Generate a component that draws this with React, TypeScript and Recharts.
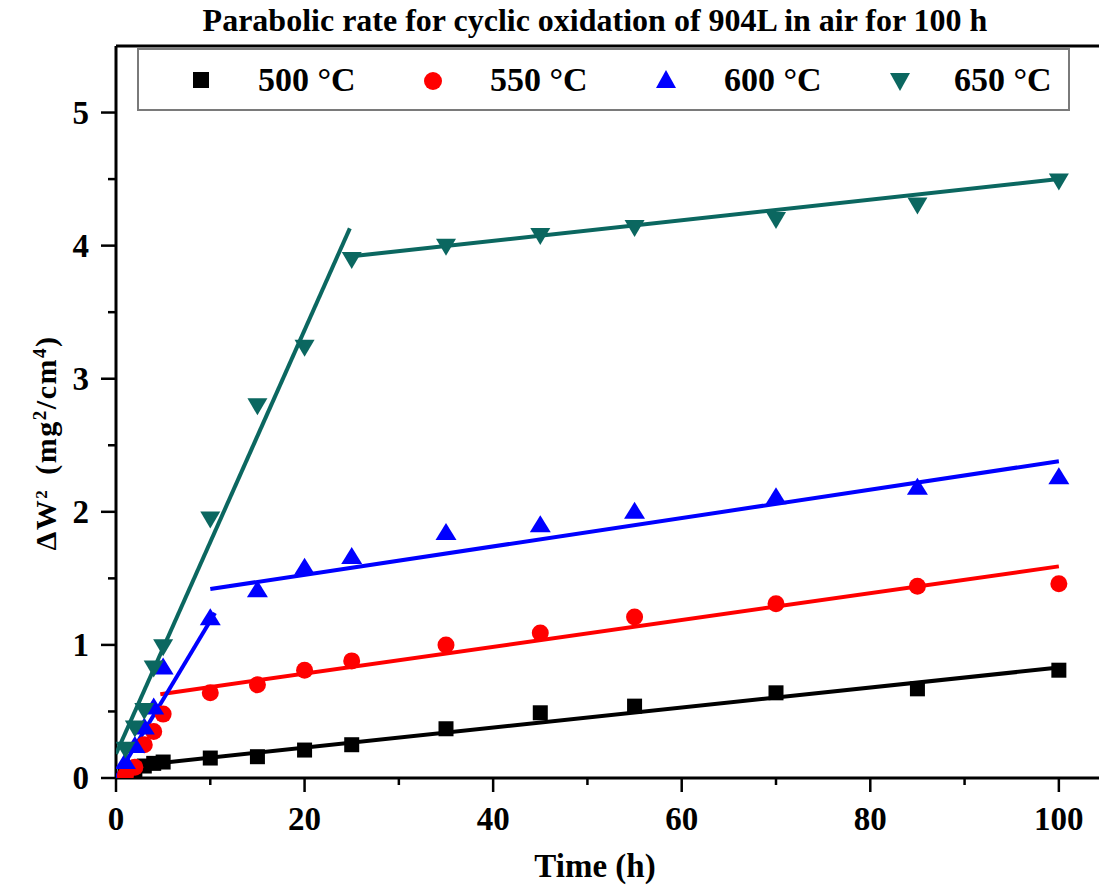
import React from 'react';
import { ComposedChart, Scatter, XAxis, YAxis, ReferenceLine } from 'recharts';

// Measured points (h, mg^2/cm^4)
const times = [1, 2, 3, 4, 5, 10, 15, 20, 25, 35, 45, 55, 70, 85, 100];
const w500 = [0.03, 0.06, 0.09, 0.11, 0.12, 0.15, 0.16, 0.21, 0.25, 0.37, 0.49, 0.54, 0.64, 0.67, 0.81];
const w550 = [0.02, 0.08, 0.25, 0.35, 0.48, 0.64, 0.7, 0.81, 0.88, 1.0, 1.09, 1.21, 1.31, 1.44, 1.46];
const w600 = [0.12, 0.24, 0.38, 0.53, 0.83, 1.2, 1.41, 1.58, 1.66, 1.84, 1.9, 2.0, 2.11, 2.18, 2.26];
const w650 = [0.22, 0.38, 0.51, 0.83, 0.99, 1.95, 2.8, 3.24, 3.9, 4.0, 4.08, 4.14, 4.2, 4.31, 4.49];

// Linear fit segments (start / end)
const fit500X = [3, 100];
const fit500Y = [0.1, 0.83];
const fit550X = [4.7, 100];
const fit550Y = [0.63, 1.59];
const fit600aX = [0, 10.5];
const fit600aY = [0.0, 1.24];
const fit600bX = [10, 100];
const fit600bY = [1.42, 2.38];
const fit650aX = [0, 24.8];
const fit650aY = [0.18, 4.13];
const fit650bX = [25, 100];
const fit650bY = [3.92, 4.5];

const xTicks = [0, 10, 20, 30, 40, 50, 60, 70, 80, 90, 100];
const yTicks = [0, 0.5, 1, 1.5, 2, 2.5, 3, 3.5, 4, 4.5, 5];

const legendLabels = ['500 °C', '550 °C', '600 °C', '650 °C'];

const FONT = '"Liberation Serif", "Times New Roman", serif';
const BLACK = '#000000';
const RED = '#ff0000';
const BLUE = '#0000ff';
const TEAL = '#0b6760';

const pts = (xs: number[], ys: number[]) => xs.map((x, i) => ({ x, y: ys[i] }));

const squareShape = (p: any) => <rect x={p.cx - 7.5} y={p.cy - 7.5} width={15} height={15} fill={BLACK} />;
const circleShape = (p: any) => <circle cx={p.cx} cy={p.cy} r={8.5} fill={RED} />;
const triUpShape = (p: any) => (
  <polygon points={`${p.cx},${p.cy - 10} ${p.cx + 10.5},${p.cy + 7} ${p.cx - 10.5},${p.cy + 7}`} fill={BLUE} />
);
const triDownShape = (p: any) => (
  <polygon points={`${p.cx - 10},${p.cy - 7} ${p.cx + 10},${p.cy - 7} ${p.cx},${p.cy + 10}`} fill={TEAL} />
);
const noShape = () => <g />;

const XTick = (props: any) => {
  const { x, y, payload } = props;
  const major = payload.value % 20 === 0;
  return (
    <g>
      <line x1={x} x2={x} y1={y} y2={y + (major ? 14 : 7)} stroke="#000" strokeWidth={2.5} />
      {major && (
        <text x={x} y={y + 52} textAnchor="middle" fontFamily={FONT} fontWeight="bold" fontSize={33} fill="#000">
          {payload.value}
        </text>
      )}
    </g>
  );
};

const YTick = (props: any) => {
  const { x, y, payload } = props;
  const major = Number.isInteger(payload.value);
  return (
    <g>
      <line x1={x} x2={x - (major ? 15 : 8)} y1={y} y2={y} stroke="#000" strokeWidth={2.5} />
      {major && (
        <text x={x - 27} y={y + 11} textAnchor="end" fontFamily={FONT} fontWeight="bold" fontSize={33} fill="#000">
          {payload.value}
        </text>
      )}
    </g>
  );
};

// legend markers
const legendX = [201, 433, 666, 900];
const legendTextX = [258, 490, 724, 954];

const Overlay = () => (
  <svg width={1099} height={887} style={{ position: 'absolute', left: 0, top: 0, pointerEvents: 'none' }}>
    <text x={595} y={31} textAnchor="middle" fontFamily={FONT} fontWeight="bold" fontSize={32} fill="#000">
      Parabolic rate for cyclic oxidation of 904L in air for 100 h
    </text>
    <rect x={138} y={49} width={931} height={61} fill="#fff" stroke="#7a7a7a" strokeWidth={2} />
    <rect x={legendX[0] - 8} y={72} width={16} height={16} fill={BLACK} />
    <circle cx={legendX[1]} cy={81} r={9} fill={RED} />
    <polygon points={`${legendX[2]},70 ${legendX[2] + 10},88 ${legendX[2] - 10},88`} fill={BLUE} />
    <polygon points={`${legendX[3] - 10},73 ${legendX[3] + 10},73 ${legendX[3]},91`} fill={TEAL} />
    {legendLabels.map((l, i) => (
      <text key={l} x={legendTextX[i]} y={91} fontFamily={FONT} fontWeight="bold" fontSize={34} fill="#000">
        {l}
      </text>
    ))}
    <text x={595} y={877} textAnchor="middle" fontFamily={FONT} fontWeight="bold" fontSize={33} fill="#000">
      Time (h)
    </text>
    <text
      transform="translate(56,443) rotate(-90)"
      textAnchor="middle"
      fontFamily={FONT}
      fontWeight="bold"
      fontSize={30}
      letterSpacing={1.5}
      fill="#000"
    >
      ΔW<tspan baselineShift="super" fontSize={17}>2</tspan>
      <tspan dx={14}>(mg</tspan>
      <tspan baselineShift="super" fontSize={19}>2</tspan>
      <tspan>/cm</tspan>
      <tspan baselineShift="super" fontSize={19}>4</tspan>
      <tspan>)</tspan>
    </text>
  </svg>
);

export default function App() {
  return (
    <div style={{ position: 'fixed', left: 0, top: 0, width: 1099, height: 887, overflow: 'hidden', background: '#fff' }}>
      <ComposedChart width={1110} height={887} margin={{ top: 46, right: 4, bottom: 0, left: 0 }}>
        <XAxis
          dataKey="x"
          type="number"
          domain={[0, 105]}
          ticks={xTicks}
          interval={0}
          height={109}
          tickSize={0}
          tickMargin={0}
          tick={<XTick />}
          axisLine={{ stroke: '#000', strokeWidth: 3 }}
          allowDataOverflow
        />
        <YAxis
          dataKey="y"
          type="number"
          domain={[0, 5.5]}
          ticks={yTicks}
          interval={0}
          width={116}
          tickSize={0}
          tickMargin={0}
          tick={<YTick />}
          axisLine={{ stroke: '#000', strokeWidth: 3 }}
          allowDataOverflow
        />
        <ReferenceLine y={5.5} stroke="#000" strokeWidth={3} />

        <Scatter data={pts(fit500X, fit500Y)} line={{ stroke: BLACK, strokeWidth: 4 }} shape={noShape} isAnimationActive={false} />
        <Scatter data={pts(fit550X, fit550Y)} line={{ stroke: RED, strokeWidth: 4 }} shape={noShape} isAnimationActive={false} />
        <Scatter data={pts(fit600aX, fit600aY)} line={{ stroke: BLUE, strokeWidth: 4 }} shape={noShape} isAnimationActive={false} />
        <Scatter data={pts(fit600bX, fit600bY)} line={{ stroke: BLUE, strokeWidth: 4 }} shape={noShape} isAnimationActive={false} />
        <Scatter data={pts(fit650aX, fit650aY)} line={{ stroke: TEAL, strokeWidth: 4 }} shape={noShape} isAnimationActive={false} />
        <Scatter data={pts(fit650bX, fit650bY)} line={{ stroke: TEAL, strokeWidth: 4 }} shape={noShape} isAnimationActive={false} />

        <Scatter data={pts(times, w500)} shape={squareShape} isAnimationActive={false} />
        <Scatter data={pts(times, w550)} shape={circleShape} isAnimationActive={false} />
        <Scatter data={pts(times, w600)} shape={triUpShape} isAnimationActive={false} />
        <Scatter data={pts(times, w650)} shape={triDownShape} isAnimationActive={false} />
      </ComposedChart>
      <Overlay />
    </div>
  );
}
